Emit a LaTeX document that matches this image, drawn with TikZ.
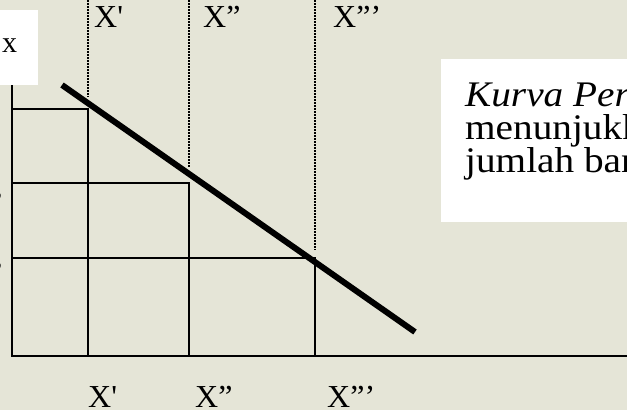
\documentclass[tikz,border=0pt]{standalone}
\usepackage{fontspec}
\setmainfont{Liberation Serif}
\definecolor{bgcol}{RGB}{229,229,215}
\tikzset{
  thinline/.style={line width=1.5pt, black},
  dotline/.style={line width=2pt, black, dash pattern=on 1.5pt off 1.5pt},
  curveline/.style={line width=6pt, black},
  lbl/.style={anchor=base west, inner sep=0pt, font=\fontsize{32}{36}\selectfont},
  boxtext/.style={anchor=base west, inner sep=0pt, font=\fontsize{36}{40}\selectfont},
}
\newcommand{\wide}[1]{\scalebox{1.09}[1]{#1}}
\begin{document}
\begin{tikzpicture}[x=1pt,y=-1pt]
\useasboundingbox (0,0) rectangle (627,410);
\clip (0,0) rectangle (627,410);
\fill[bgcol] (0,0) rectangle (627,410);
% white boxes
\fill[white] (0,10) rectangle (38,85);
\fill[white] (441,59) rectangle (627,222);
% coordinates
\coordinate (ytop) at (12,85);
\coordinate (O) at (12,356);
\coordinate (xend) at (627,356);
\coordinate (a1) at (12,109);  \coordinate (a2) at (88,109);  \coordinate (a3) at (88,356);
\coordinate (b1) at (12,183);  \coordinate (b2) at (189,183); \coordinate (b3) at (189,356);
\coordinate (c1) at (12,258);  \coordinate (c2) at (315,258); \coordinate (c3) at (315,356);
\coordinate (d1t) at (88,0);   \coordinate (d1b) at (88,97);
\coordinate (d2t) at (189,0);  \coordinate (d2b) at (189,167);
\coordinate (d3t) at (315,0);  \coordinate (d3b) at (315,250);
\coordinate (ks) at (62,85);   \coordinate (ke) at (415,332);
% axes and rectangles
\draw[thinline] (ytop) -- (O) -- (xend);
\draw[thinline] (a1) -- (a2) -- (a3);
\draw[thinline] (b1) -- (b2) -- (b3);
\draw[thinline] (c1) -- (c2) -- (c3);
% dotted guides
\draw[dotline] (d1t) -- (d1b);
\draw[dotline] (d2t) -- (d2b);
\draw[dotline] (d3t) -- (d3b);
% curve
\draw[curveline] (ks) -- (ke);
% labels
\node[lbl, font=\fontsize{30}{34}\selectfont] (lx) at (2,52) {x};
\node[lbl, anchor=base east] (ly1) at (2.5,214) {”};
\node[lbl, anchor=base east] (ly2) at (2.5,284) {”};
\node[lbl] (t1) at (94,27) {X\textquotesingle};
\node[lbl] (t2) at (203,27) {X”};
\node[lbl] (t3) at (333,27) {X”’};
\node[lbl] (b1l) at (88,407) {X\textquotesingle};
\node[lbl] (b2l) at (195,407) {X”};
\node[lbl] (b3l) at (327,407) {X”’};
% text box
\node[boxtext] (k1) at (465,106) {\wide{\itshape Kurva Per}};
\node[boxtext] (k2) at (465,139) {\wide{menunjukk}};
\node[boxtext] (k3) at (465,172) {\wide{jumlah ban}};
\end{tikzpicture}
\end{document}
